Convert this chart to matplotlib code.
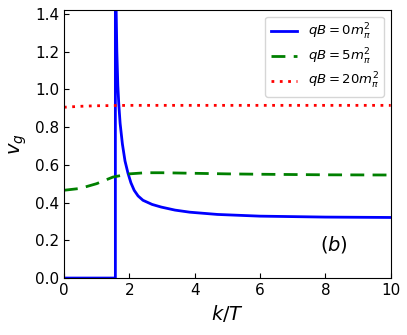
import matplotlib
matplotlib.use('Agg')
import matplotlib.pyplot as plt
import numpy as np

# group velocity vs k/T
k_b0 = [0.0, 1.575, 1.575, 1.59, 1.60, 1.62, 1.65, 1.68, 1.72, 1.79, 1.87, 1.96,
        2.05, 2.15, 2.27, 2.42, 2.70, 2.98, 3.40, 3.85, 4.70, 6.00, 8.00, 10.0]
vg_b0 = [0.0, 0.0, 5.0, 2.0, 1.41, 1.20, 1.02, 0.92, 0.82, 0.71, 0.62, 0.556,
         0.505, 0.465, 0.435, 0.412, 0.39, 0.376, 0.36, 0.349, 0.337, 0.328, 0.323, 0.321]

k_b5 = [0.0, 0.5, 1.0, 1.5, 2.0, 2.5, 3.0, 4.0, 5.0, 6.0, 8.0, 10.0]
vg_b5 = [0.465, 0.475, 0.50, 0.535, 0.552, 0.558, 0.558, 0.555, 0.552, 0.550, 0.547, 0.546]

k_b20 = [0.0, 0.5, 1.0, 2.0, 4.0, 6.0, 8.0, 10.0]
vg_b20 = [0.905, 0.910, 0.913, 0.915, 0.915, 0.915, 0.915, 0.915]


def main():
    fig = plt.figure(figsize=(4.07, 3.35), dpi=100)
    ax = fig.add_axes([0.157, 0.17, 0.803, 0.80])

    ax.plot(k_b0, vg_b0, color='blue', lw=2, label=r'$qB=0m_\pi^2$')
    ax.plot(k_b5, vg_b5, color='green', lw=2, ls=(0, (5, 3)), label=r'$qB=5m_\pi^2$')
    ax.plot(k_b20, vg_b20, color='red', lw=2, ls=(0, (1, 2)), label=r'$qB=20m_\pi^2$')

    ax.set_xlim(0, 10)
    ax.set_ylim(0, 1.42)
    ax.set_xticks([0, 2, 4, 6, 8, 10])
    ax.set_yticks([0.0, 0.2, 0.4, 0.6, 0.8, 1.0, 1.2, 1.4])
    ax.tick_params(direction='in', labelsize=11)
    ax.set_xlabel(r'$k/T$', fontsize=14)
    ax.set_ylabel(r'$v_g$', fontsize=14)
    ax.text(8.25, 0.18, r'$(b)$', fontsize=14, ha='center', va='center')
    ax.legend(loc='upper right', fontsize=9.5, labelspacing=0.35)

    fig.savefig('out.png', dpi=100)


if __name__ == '__main__':
    main()
